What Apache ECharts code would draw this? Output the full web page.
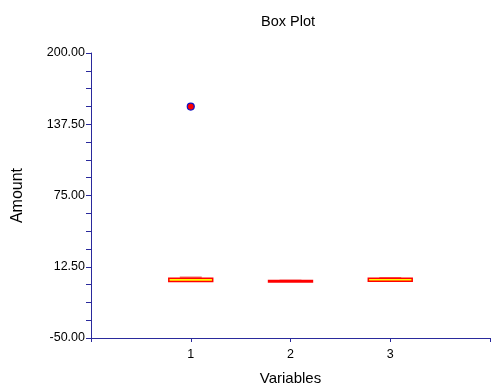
<!DOCTYPE html>
<html>
<head>
<meta charset="utf-8">
<script src="https://cdn.jsdelivr.net/npm/echarts@6/dist/echarts.min.js"></script>
<style>html,body{margin:0;padding:0;background:#fff}#c{width:493px;height:391px}</style>
</head>
<body>
<div id="c"></div>
<script>
const categories = [1, 2, 3];
const lowerWhisker = [-0.5, -0.8, -0.2];
const q1 = [-0.5, -0.8, -0.2];
const median = [1.0, 0.0, 1.0];
const q3 = [2.5, 0.5, 2.4];
const upperWhisker = [4.0, 1.2, 3.5];
const outliers = [[1, 153]];
const yTicks = [-50, 12.5, 75, 137.5, 200];

const boxData = categories.map((c, i) => [c, lowerWhisker[i], q1[i], median[i], q3[i], upperWhisker[i]]);
const axisColor = '#2a2a9c';
const font = 'Liberation Sans, Arial, sans-serif';

const chart = echarts.init(document.getElementById('c'), null, {renderer: 'canvas'});
chart.setOption({
  animation: false,
  backgroundColor: '#fff',
  title: {
    text: 'Box Plot', left: 256, top: 9,
    textStyle: {fontFamily: font, fontSize: 14.5, fontWeight: 'normal', color: '#000'}
  },
  grid: {left: 91, right: 0, top: 53, bottom: 47, containLabel: false},
  xAxis: {
    type: 'value', min: 0, max: 4, interval: 1,
    name: 'Variables', nameLocation: 'middle', nameGap: 33,
    nameTextStyle: {fontFamily: font, fontSize: 15, color: '#000'},
    axisLine: {show: true, onZero: false, lineStyle: {color: axisColor, width: 1}},
    axisTick: {show: true, length: 4, lineStyle: {color: axisColor}},
    axisLabel: {
      fontFamily: font, fontSize: 12.5, color: '#000', margin: 10,
      formatter: v => (v >= 1 && v <= 3) ? String(v) : ''
    },
    splitLine: {show: false}
  },
  yAxis: {
    type: 'value', min: yTicks[0], max: yTicks[yTicks.length - 1], interval: 62.5,
    name: 'Amount', nameLocation: 'middle', nameGap: 65, nameRotate: 90,
    nameTextStyle: {fontFamily: font, fontSize: 16, color: '#000'},
    axisLine: {show: true, onZero: false, lineStyle: {color: axisColor, width: 1}},
    axisTick: {show: true, length: 5, lineStyle: {color: axisColor}},
    minorTick: {show: true, splitNumber: 4, length: 5, lineStyle: {color: axisColor}},
    axisLabel: {
      fontFamily: font, fontSize: 12.5, color: '#000', margin: 6,
      formatter: v => v.toFixed(2)
    },
    splitLine: {show: false},
    minorSplitLine: {show: false}
  },
  series: [
    {
      type: 'custom',
      data: boxData,
      renderItem: function (params, api) {
        const x = api.value(0);
        const lo = api.coord([x, api.value(1)]);
        const b1 = api.coord([x, api.value(2)]);
        const b3 = api.coord([x, api.value(4)]);
        const hi = api.coord([x, api.value(5)]);
        const halfW = (api.coord([x + 0.22, 0])[0] - b1[0]);
        const capW = (api.coord([x + 0.11, 0])[0] - b1[0]);
        const children = [];
        children.push({
          type: 'rect',
          shape: {x: b1[0] - capW, y: hi[1], width: capW * 2, height: Math.max(b3[1] - hi[1], 0.5)},
          style: {fill: 'rgba(235,80,80,0.75)', stroke: null}
        });
        if (lo[1] - b1[1] > 0.3) {
          children.push({
            type: 'rect',
            shape: {x: b1[0] - capW, y: b1[1], width: capW * 2, height: lo[1] - b1[1]},
            style: {fill: 'rgba(235,80,80,0.75)', stroke: null}
          });
        }
        children.push({
          type: 'rect',
          shape: {x: b1[0] - halfW, y: b3[1], width: halfW * 2, height: Math.max(b1[1] - b3[1], 0.5)},
          style: {fill: '#ffff00', stroke: '#ff0000', lineWidth: 1.5}
        });
        return {type: 'group', children: children};
      },
      z: 3
    },
    {
      type: 'scatter',
      data: outliers,
      symbol: 'circle',
      symbolSize: 7,
      itemStyle: {color: '#ff0000', borderColor: '#1010c0', borderWidth: 1.2, opacity: 1},
      z: 4
    }
  ]
});
</script>
</body>
</html>
